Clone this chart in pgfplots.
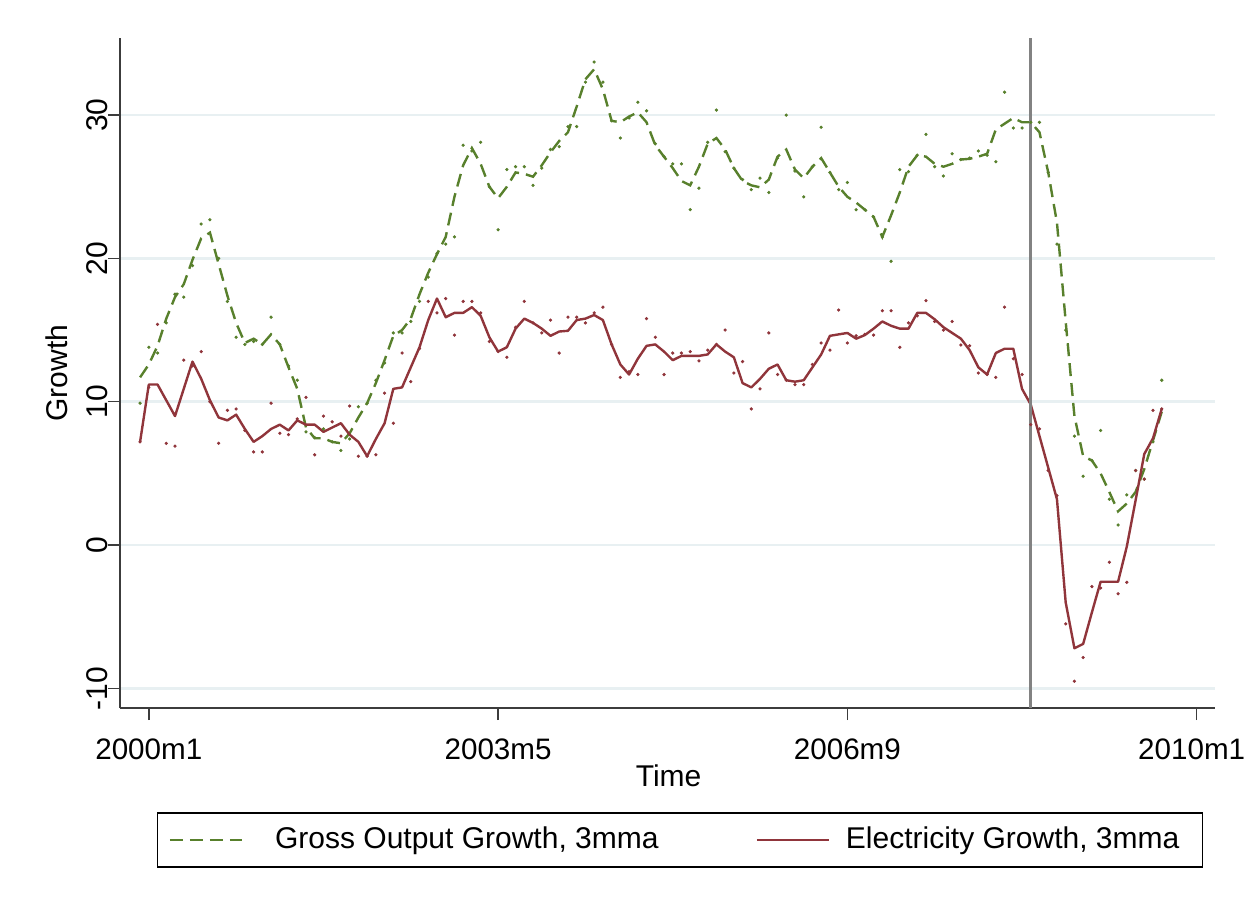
\documentclass[border=0pt]{standalone}
\usepackage{fontspec}
\setmainfont{Liberation Sans}
\usepackage{pgfplots}
\pgfplotsset{compat=1.18}
\usepackage{pgfplotstable}
\definecolor{ggreen}{RGB}{88,128,44}
\definecolor{mred}{RGB}{144,53,59}
\definecolor{gridc}{RGB}{232,240,242}
\definecolor{vlinec}{RGB}{130,130,130}
\definecolor{axc}{RGB}{60,60,60}

% m = months since 2000m1; gm/rm = 3-month moving averages; gr/rr = monthly values
\pgfplotstableread{
m gm rm gr rr
-1 11.7 7.2 9.9 7.2
0 12.6 11.2 13.8 11.0
1 13.9 11.2 13.4 15.4
2 15.8 10.1 15.5 7.1
3 17.3 9.0 17.5 6.9
4 18.2 10.9 17.3 12.9
5 19.9 12.8 19.5 12.5
6 21.4 11.6 22.4 13.5
7 21.8 10.1 22.7 10.0
8 19.6 8.9 20.0 7.1
9 17.4 8.7 17.0 9.4
10 15.5 9.1 14.5 9.5
11 14.1 8.1 14.0 8.0
12 14.4 7.2 14.2 6.5
13 14.0 7.6 14.0 6.5
14 14.7 8.1 15.9 9.9
15 14.0 8.4 14.0 7.8
16 12.4 8.0 12.5 7.7
17 10.9 8.7 11.5 8.8
18 8.2 8.4 7.9 10.3
19 7.45 8.4 7.5 6.3
20 7.45 7.9 8.1 9.0
21 7.2 8.2 7.2 8.6
22 7.1 8.5 6.6 7.6
23 7.8 7.7 7.4 9.7
24 8.9 7.2 9.65 6.2
25 9.9 6.2 9.9 6.2
26 11.3 7.4 11.5 6.3
27 12.9 8.5 12.7 10.6
28 14.6 10.9 14.8 8.5
29 15.0 11.0 14.8 13.4
30 15.8 12.4 15.6 11.4
31 17.5 13.8 17.0 13.7
32 19.0 15.7 18.7 17.0
33 20.3 17.2 20.35 16.2
34 21.5 15.9 21.0 17.2
35 24.3 16.2 21.5 14.65
36 26.5 16.2 27.9 17.0
37 27.7 16.6 27.5 17.0
38 26.6 16.0 28.1 16.2
39 25.0 14.5 25.0 14.2
40 24.2 13.5 22.0 13.5
41 25.0 13.8 26.2 13.1
42 26.0 15.1 26.4 15.2
43 25.9 15.8 26.4 17.0
44 25.7 15.5 25.1 15.5
45 26.5 15.1 26.3 14.8
46 27.4 14.6 27.6 15.7
47 28.2 14.9 27.8 13.4
48 28.8 14.95 29.2 15.9
49 30.6 15.7 29.2 15.9
50 32.5 15.8 32.3 15.5
51 33.2 16.05 33.7 16.2
52 31.8 15.7 32.3 16.6
53 29.6 14.0 29.6 14.0
54 29.5 12.6 28.4 11.7
55 29.9 11.9 29.8 12.1
56 30.2 13.0 30.9 11.9
57 29.5 13.9 30.3 15.8
58 27.9 14.0 28.0 14.5
59 27.1 13.5 27.1 11.9
60 26.3 12.9 26.6 13.4
61 25.4 13.2 26.6 13.4
62 25.1 13.2 23.4 13.5
63 26.4 13.2 24.9 12.85
64 28.0 13.3 28.1 13.6
65 28.4 14.0 30.35 14.0
66 27.6 13.5 27.45 15.0
67 26.3 13.1 26.3 12.0
68 25.4 11.3 25.5 12.8
69 25.1 11.0 24.8 9.5
70 24.96 11.6 25.6 10.9
71 25.5 12.3 24.6 14.8
72 27.1 12.6 27.0 11.9
73 27.6 11.5 30.0 11.5
74 26.2 11.4 26.1 11.2
75 25.6 11.5 24.3 11.2
76 26.4 12.4 26.4 12.6
77 27.0 13.3 29.15 14.1
78 26.0 14.6 26.0 13.6
79 25.0 14.7 24.8 16.4
80 24.3 14.8 25.3 14.1
81 23.9 14.4 23.4 14.6
82 23.4 14.65 23.4 14.7
83 22.9 15.1 22.9 14.65
84 21.5 15.6 21.5 16.35
85 23.0 15.3 19.8 16.35
86 24.6 15.1 26.2 13.8
87 26.4 15.1 26.05 15.5
88 27.2 16.2 27.2 16.0
89 27.1 16.2 28.65 17.05
90 26.6 15.75 26.4 15.6
91 26.4 15.2 25.75 15.0
92 26.6 14.8 27.3 15.6
93 26.9 14.4 26.9 13.96
94 26.95 13.6 27.0 13.9
95 27.1 12.4 27.5 12.0
96 27.3 11.9 27.2 11.9
97 29.0 13.4 26.75 11.7
98 29.4 13.7 31.6 16.6
99 29.8 13.7 29.1 13.0
100 29.5 10.9 29.1 11.9
101 29.5 9.8 29.5 8.4
102 28.8 7.6 29.5 8.1
103 26.0 5.4 26.0 5.2
104 22.5 3.2 21.0 3.45
105 15.6 -4.0 15.0 -5.5
106 9.0 -7.2 7.6 -9.5
107 6.2 -6.9 4.8 -7.85
108 5.9 -4.7 5.9 -2.9
109 5.0 -2.56 8.0 -3.0
110 3.7 -2.56 3.2 -1.2
111 2.35 -2.56 1.4 -3.4
112 2.9 -0.1 3.5 -2.6
113 3.7 3.1 5.2 5.2
114 5.3 6.35 4.6 4.6
115 7.3 7.45 7.2 9.4
116 9.3 9.5 11.5 9.5
}\data

\begin{document}
\fontsize{15}{18}\selectfont
\begin{tikzpicture}
\useasboundingbox (-60pt,-99.5pt) rectangle (563.5pt,354pt);
\begin{axis}[
  at={(0,0)}, anchor=south west,
  scale only axis, width=547.5pt, height=335pt,
  xmin=-3.3, xmax=122.1, ymin=-11.37, ymax=35.38,
  axis lines=left,
  every outer x axis line/.append style={-},
  every outer y axis line/.append style={-},
  every inner x axis line/.append style={-},
  every inner y axis line/.append style={-},
  axis line style={-, axc, line width=0.9pt},
  xtick={0,40,80,120}, xticklabels={2000m1,2003m5,2006m9,{\kern-5pt 2010m1}},
  ytick={-10,0,10,20,30},
  minor tick num=0,
  tick align=outside, major tick length=6pt,
  tick style={axc, line width=0.7pt},
  ymajorgrids, grid style={gridc, line width=1.3pt},
  /pgf/number format/assume math mode=true,
  yticklabel style={rotate=90, anchor=south, inner sep=0pt, font=\fontsize{15}{18}\selectfont},
  xticklabel style={anchor=north, inner sep=0pt, yshift=-9pt, font=\fontsize{14.8}{18}\selectfont},
  every axis x label/.style={at={(axis description cs:0.501,0)}, anchor=north, yshift=-28pt, inner sep=0pt, font=\fontsize{15}{18}\selectfont},
  every axis y label/.style={at={(axis description cs:-0.0475,0.5)}, rotate=90, anchor=south, inner sep=0pt, font=\fontsize{15}{18}\selectfont},
  xlabel={Time}, ylabel={Growth},
  legend columns=2,
  legend image code/.code={\draw[#1] (0pt,0pt) -- (36pt,0pt);},
  legend style={at={(axis description cs:0.0338,-0.197)}, anchor=west,
    draw=black, line width=0.7pt, font=\fontsize{15}{18}\selectfont,
    inner xsep=5.5pt, inner ysep=7pt,
    nodes={inner sep=0pt},
    /tikz/column 1/.style={column sep=16pt},
    /tikz/column 2/.style={column sep=48.5pt},
    /tikz/column 3/.style={column sep=8pt}},
  clip=false,
]
\addplot[only marks, mark=*, mark size=0.6pt, ggreen, forget plot] table[x=m, y=gr]{\data};
\addplot[only marks, mark=*, mark size=0.6pt, mred, forget plot] table[x=m, y=rr]{\data};
\addplot[ggreen, mark=none, line width=1.2pt, dash pattern=on 6.5pt off 3.5pt] table[x=m, y=gm]{\data};
\addlegendentry{Gross Output Growth, 3mma}
\addplot[mred, mark=none, line width=1.2pt, line join=round] table[x=m, y=rm]{\data};
\addlegendentry{Electricity Growth, 3mma\kern6pt}
\draw[vlinec, line width=1.4pt] (axis cs:101,-11.37) -- (axis cs:101,35.38);
\end{axis}
\end{tikzpicture}
\end{document}
